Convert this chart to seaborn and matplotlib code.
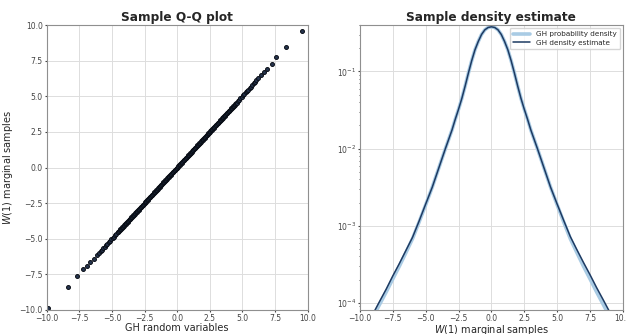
import matplotlib
matplotlib.use("Agg")
import matplotlib.pyplot as plt
import seaborn as sns
import pandas as pd

# Q-Q plot: theoretical GH quantiles vs. sample quantiles of W(1)
tail_low_theory = [-9.88, -8.40, -7.66, -7.20, -6.87, -6.64, -6.36, -6.13, -5.98]
tail_low_sample = [-9.85, -8.38, -7.65, -7.16, -6.91, -6.63, -6.39, -6.16, -6.02]
tail_high_theory = [6.03, 6.21, 6.41, 6.64, 6.90, 7.23, 7.56, 8.33, 9.58]
tail_high_sample = [6.11, 6.28, 6.46, 6.70, 6.93, 7.30, 7.75, 8.45, 9.61]

shoulder_low_theory = [-5.85, -5.75, -5.65, -5.55, -5.45, -5.35, -5.25, -5.15,
                       -5.05, -4.95, -4.85, -4.75, -4.65, -4.55]
shoulder_low_sample = [-5.88, -5.77, -5.67, -5.56, -5.46, -5.36, -5.25, -5.15,
                       -5.05, -4.95, -4.85, -4.75, -4.65, -4.55]
shoulder_high_theory = [4.55, 4.65, 4.75, 4.85, 4.95, 5.05, 5.15, 5.25,
                        5.35, 5.45, 5.55, 5.65, 5.75, 5.85, 5.95]
shoulder_high_sample = [4.55, 4.65, 4.76, 4.86, 4.96, 5.06, 5.16, 5.27,
                        5.37, 5.47, 5.58, 5.68, 5.79, 5.90, 6.01]

# In the core the sample quantiles sit on the theoretical ones
core_quantiles = [
    -4.50, -4.45, -4.40, -4.35, -4.30, -4.25, -4.20, -4.15, -4.10, -4.05,
    -4.00, -3.95, -3.90, -3.85, -3.80, -3.75, -3.70, -3.65, -3.60, -3.55,
    -3.50, -3.45, -3.40, -3.35, -3.30, -3.25, -3.20, -3.15, -3.10, -3.05,
    -3.00, -2.95, -2.90, -2.85, -2.80, -2.75, -2.70, -2.65, -2.60, -2.55,
    -2.50, -2.45, -2.40, -2.35, -2.30, -2.25, -2.20, -2.15, -2.10, -2.05,
    -2.00, -1.95, -1.90, -1.85, -1.80, -1.75, -1.70, -1.65, -1.60, -1.55,
    -1.50, -1.45, -1.40, -1.35, -1.30, -1.25, -1.20, -1.15, -1.10, -1.05,
    -1.00, -0.95, -0.90, -0.85, -0.80, -0.75, -0.70, -0.65, -0.60, -0.55,
    -0.50, -0.45, -0.40, -0.35, -0.30, -0.25, -0.20, -0.15, -0.10, -0.05,
    0.00, 0.05, 0.10, 0.15, 0.20, 0.25, 0.30, 0.35, 0.40, 0.45,
    0.50, 0.55, 0.60, 0.65, 0.70, 0.75, 0.80, 0.85, 0.90, 0.95,
    1.00, 1.05, 1.10, 1.15, 1.20, 1.25, 1.30, 1.35, 1.40, 1.45,
    1.50, 1.55, 1.60, 1.65, 1.70, 1.75, 1.80, 1.85, 1.90, 1.95,
    2.00, 2.05, 2.10, 2.15, 2.20, 2.25, 2.30, 2.35, 2.40, 2.45,
    2.50, 2.55, 2.60, 2.65, 2.70, 2.75, 2.80, 2.85, 2.90, 2.95,
    3.00, 3.05, 3.10, 3.15, 3.20, 3.25, 3.30, 3.35, 3.40, 3.45,
    3.50, 3.55, 3.60, 3.65, 3.70, 3.75, 3.80, 3.85, 3.90, 3.95,
    4.00, 4.05, 4.10, 4.15, 4.20, 4.25, 4.30, 4.35, 4.40, 4.45,
    4.50,
]

# Density curves on a shared grid
grid_x = [
    -10.0, -9.5, -9.0, -8.5, -8.0, -7.5, -7.0, -6.5, -6.0, -5.5, -5.0, -4.5, -4.0, -3.5,
    -3.0, -2.75, -2.5, -2.25, -2.0, -1.75, -1.5, -1.25, -1.0, -0.75, -0.5, -0.25,
    0.0, 0.25, 0.5, 0.75, 1.0, 1.25, 1.5, 1.75, 2.0, 2.25, 2.5, 2.75, 3.0,
    3.5, 4.0, 4.5, 5.0, 5.5, 6.0, 6.5, 7.0, 7.5, 8.0, 8.5, 9.0, 9.5, 10.0,
]
gh_pdf = [
    0.0000315, 0.0000455, 0.0000660, 0.0000960, 0.000139, 0.000205, 0.000300, 0.000450,
    0.000680, 0.00112, 0.00187, 0.00316, 0.00562, 0.0100,
    0.0174, 0.0240, 0.0324, 0.0447, 0.0646, 0.0955, 0.138, 0.191, 0.245, 0.302, 0.347, 0.372,
    0.380, 0.372, 0.347, 0.302, 0.245, 0.191, 0.138, 0.0955, 0.0646, 0.0447, 0.0324, 0.0240,
    0.0174, 0.0100, 0.00562, 0.00316, 0.00187, 0.00112, 0.000680, 0.000450, 0.000300,
    0.000205, 0.000139, 0.0000960, 0.0000660, 0.0000455, 0.0000315,
]
kde_est = [
    0.0000347, 0.0000501, 0.0000724, 0.000105, 0.000151, 0.000224, 0.000324, 0.000479,
    0.000708, 0.00115, 0.00191, 0.00316, 0.00562, 0.0100,
    0.0174, 0.0240, 0.0324, 0.0447, 0.0646, 0.0955, 0.138, 0.191, 0.245, 0.302, 0.347, 0.372,
    0.380, 0.372, 0.347, 0.302, 0.245, 0.191, 0.138, 0.0955, 0.0646, 0.0447, 0.0324, 0.0240,
    0.0174, 0.0100, 0.00562, 0.00316, 0.00191, 0.00117, 0.000725, 0.000490, 0.000335,
    0.000232, 0.000158, 0.000110, 0.0000760, 0.0000525, 0.0000365,
]

sns.set_style("whitegrid", {
    "axes.edgecolor": "#8f8f8f",
    "grid.color": "#dddddd",
    "xtick.bottom": True,
    "ytick.left": True,
    "xtick.color": "#444444",
    "ytick.color": "#444444",
})
plt.rcParams["font.family"] = ["DejaVu Sans"]
plt.rcParams["xtick.labelsize"] = 5.5
plt.rcParams["ytick.labelsize"] = 5.5
plt.rcParams["xtick.major.size"] = 1.5
plt.rcParams["ytick.major.size"] = 1.5
plt.rcParams["ytick.minor.size"] = 1.0
plt.rcParams["xtick.major.pad"] = 1.2
plt.rcParams["ytick.major.pad"] = 1.2
plt.rcParams["axes.linewidth"] = 0.8
plt.rcParams["grid.linewidth"] = 0.7

fig = plt.figure(figsize=(6.26, 3.34), dpi=100)
ax1 = fig.add_axes([0.0745, 0.072, 0.417, 0.853])
ax2 = fig.add_axes([0.575, 0.072, 0.420, 0.853])

ticks = [-10, -7.5, -5, -2.5, 0, 2.5, 5, 7.5, 10]
tick_labels = ["\u221210.0", "\u22127.5", "\u22125.0", "\u22122.5", "0.0",
               "2.5", "5.0", "7.5", "10.0"]

qq = pd.DataFrame({
    "theory": tail_low_theory + shoulder_low_theory + core_quantiles
              + shoulder_high_theory + tail_high_theory,
    "sample": tail_low_sample + shoulder_low_sample + core_quantiles
              + shoulder_high_sample + tail_high_sample,
})
sns.scatterplot(data=qq, x="theory", y="sample", ax=ax1, s=8,
                color="#26354f", edgecolor="#080c14", linewidth=0.7)
ax1.set_xlim(-10, 10)
ax1.set_ylim(-10, 10)
ax1.set_xticks(ticks)
ax1.set_yticks(ticks)
ax1.set_xticklabels(tick_labels)
ax1.set_yticklabels(tick_labels)
ax1.set_xlabel("GH random variables", fontsize=7, labelpad=0.5)
ax1.set_ylabel("$W$(1) marginal samples", fontsize=7, labelpad=3)
ax1.set_title("Sample Q-Q plot", fontsize=8.7, fontweight="bold", pad=3)

dens = pd.DataFrame({"x": grid_x, "pdf": gh_pdf, "kde": kde_est})
sns.lineplot(data=dens, x="x", y="pdf", ax=ax2, color="#a9cbe4", linewidth=2.6,
             label="GH probability density")
sns.lineplot(data=dens, x="x", y="kde", ax=ax2, color="#1d3a62", linewidth=1.1,
             label="GH density estimate")
ax2.set_yscale("log")
ax2.set_xlim(-10, 10)
ax2.set_ylim(8.1e-5, 0.40)
ax2.set_xticks(ticks)
ax2.set_xticklabels(tick_labels)
ax2.tick_params(axis="y", which="minor", left=True, width=0.6)
ax2.set_xlabel("$W$(1) marginal samples", fontsize=7, labelpad=0)
ax2.set_ylabel("")
ax2.set_title("Sample density estimate", fontsize=8.7, fontweight="bold", pad=3)
ax2.legend(loc="upper right", fontsize=5.2, frameon=True, handlelength=2.4,
           borderpad=0.45, labelspacing=0.35, borderaxespad=0.4)

fig.savefig("out.png", dpi=100)
